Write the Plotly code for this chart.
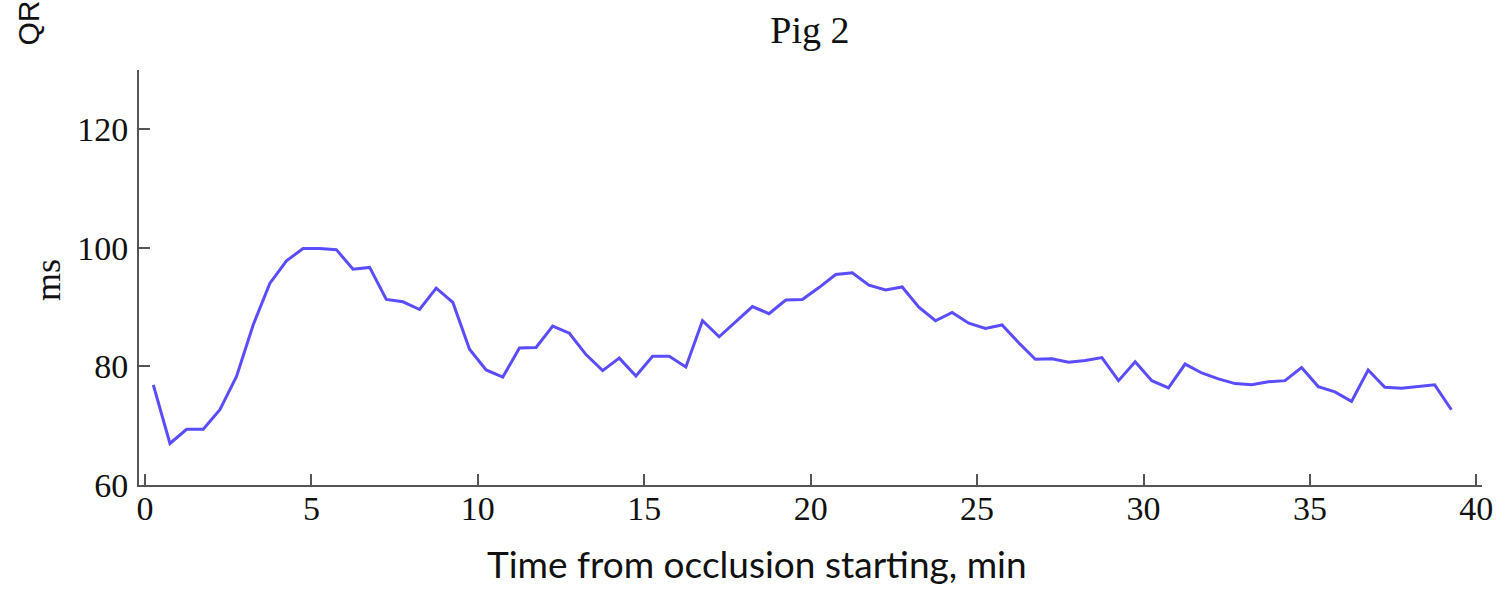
import plotly.graph_objects as go

# Time from occlusion starting (min)
time_min = [0.25, 0.75, 1.25, 1.75, 2.25, 2.75, 3.25, 3.75, 4.25, 4.75,
            5.25, 5.75, 6.25, 6.75, 7.25, 7.75, 8.25, 8.75, 9.25, 9.75,
            10.25, 10.75, 11.25, 11.75, 12.25, 12.75, 13.25, 13.75, 14.25, 14.75,
            15.25, 15.75, 16.25, 16.75, 17.25, 17.75, 18.25, 18.75, 19.25, 19.75,
            20.25, 20.75, 21.25, 21.75, 22.25, 22.75, 23.25, 23.75, 24.25, 24.75,
            25.25, 25.75, 26.25, 26.75, 27.25, 27.75, 28.25, 28.75, 29.25, 29.75,
            30.25, 30.75, 31.25, 31.75, 32.25, 32.75, 33.25, 33.75, 34.25, 34.75,
            35.25, 35.75, 36.25, 36.75, 37.25, 37.75, 38.25, 38.75, 39.25]

# QRS duration (ms)
qrs_ms = [76.9, 67.0, 69.4, 69.4, 72.7, 78.3, 87.0, 94.0, 97.8, 99.9,
          99.9, 99.7, 96.4, 96.7, 91.3, 90.9, 89.6, 93.2, 90.8, 82.9,
          79.4, 78.2, 83.1, 83.2, 86.8, 85.6, 82.0, 79.3, 81.4, 78.4,
          81.7, 81.7, 79.9, 87.7, 85.0, 87.6, 90.1, 88.9, 91.2, 91.3,
          93.3, 95.5, 95.8, 93.7, 92.9, 93.4, 90.0, 87.7, 89.1, 87.3,
          86.4, 87.0, 84.0, 81.2, 81.3, 80.7, 81.0, 81.5, 77.6, 80.8,
          77.6, 76.4, 80.4, 78.9, 77.9, 77.1, 76.9, 77.4, 77.6, 79.8,
          76.6, 75.7, 74.1, 79.4, 76.5, 76.3, 76.6, 76.9, 72.7]

x_ticks = [0, 5, 10, 15, 20, 25, 30, 35, 40]
y_ticks = [60, 80, 100, 120]

title_text = "Pig 2"
x_title = "Time from occlusion starting, min"
y_title = "ms"
corner_text = "QR"

serif = "Liberation Serif"
axis_color = "#555555"
text_color = "#111111"

fig = go.Figure()
fig.add_trace(go.Scatter(
    x=time_min, y=qrs_ms, mode="lines",
    line=dict(color="#5A4CFF", width=3),
    showlegend=False,
))

fig.update_layout(
    width=1510, height=595,
    margin=dict(l=139, r=28, t=70, b=110),
    paper_bgcolor="white", plot_bgcolor="white",
    title=dict(text=title_text, x=0.4996, xref="paper", xanchor="center",
               y=1 - 30 / 595, yanchor="middle",
               font=dict(family=serif, size=38, color=text_color)),
)

fig.update_xaxes(
    range=[-0.18, 40.17], tickvals=x_ticks,
    showgrid=False, zeroline=False,
    showline=True, linecolor=axis_color, linewidth=2,
    ticks="inside", ticklen=11, tickwidth=2, tickcolor=axis_color,
    tickfont=dict(family=serif, size=34, color=text_color),
    ticklabelstandoff=-8,
)
fig.update_yaxes(
    range=[60, 130], tickvals=y_ticks,
    showgrid=False, zeroline=False,
    showline=True, linecolor=axis_color, linewidth=2,
    ticks="inside", ticklen=11, tickwidth=2, tickcolor=axis_color,
    tickfont=dict(family=serif, size=34, color=text_color),
    ticklabelstandoff=2,
)

fig.add_annotation(
    text=y_title, xref="paper", yref="paper",
    x=(48 - 139) / 1343, y=(485 - 280) / 415,
    xanchor="center", yanchor="middle", textangle=-90, showarrow=False,
    font=dict(family=serif, size=36, color=text_color),
)
fig.add_annotation(
    text=x_title, xref="paper", yref="paper",
    x=(757 - 139) / 1343, y=(485 - 563) / 415,
    xanchor="center", yanchor="middle", showarrow=False,
    font=dict(family="Lato", size=37, color=text_color),
)
fig.add_annotation(
    text=corner_text, xref="paper", yref="paper",
    x=(28 - 139) / 1343, y=(485 - 48) / 415,
    xanchor="center", yanchor="bottom", textangle=-90, showarrow=False,
    font=dict(family="Liberation Sans", size=30, color=text_color),
)

fig.write_html("out.html")
